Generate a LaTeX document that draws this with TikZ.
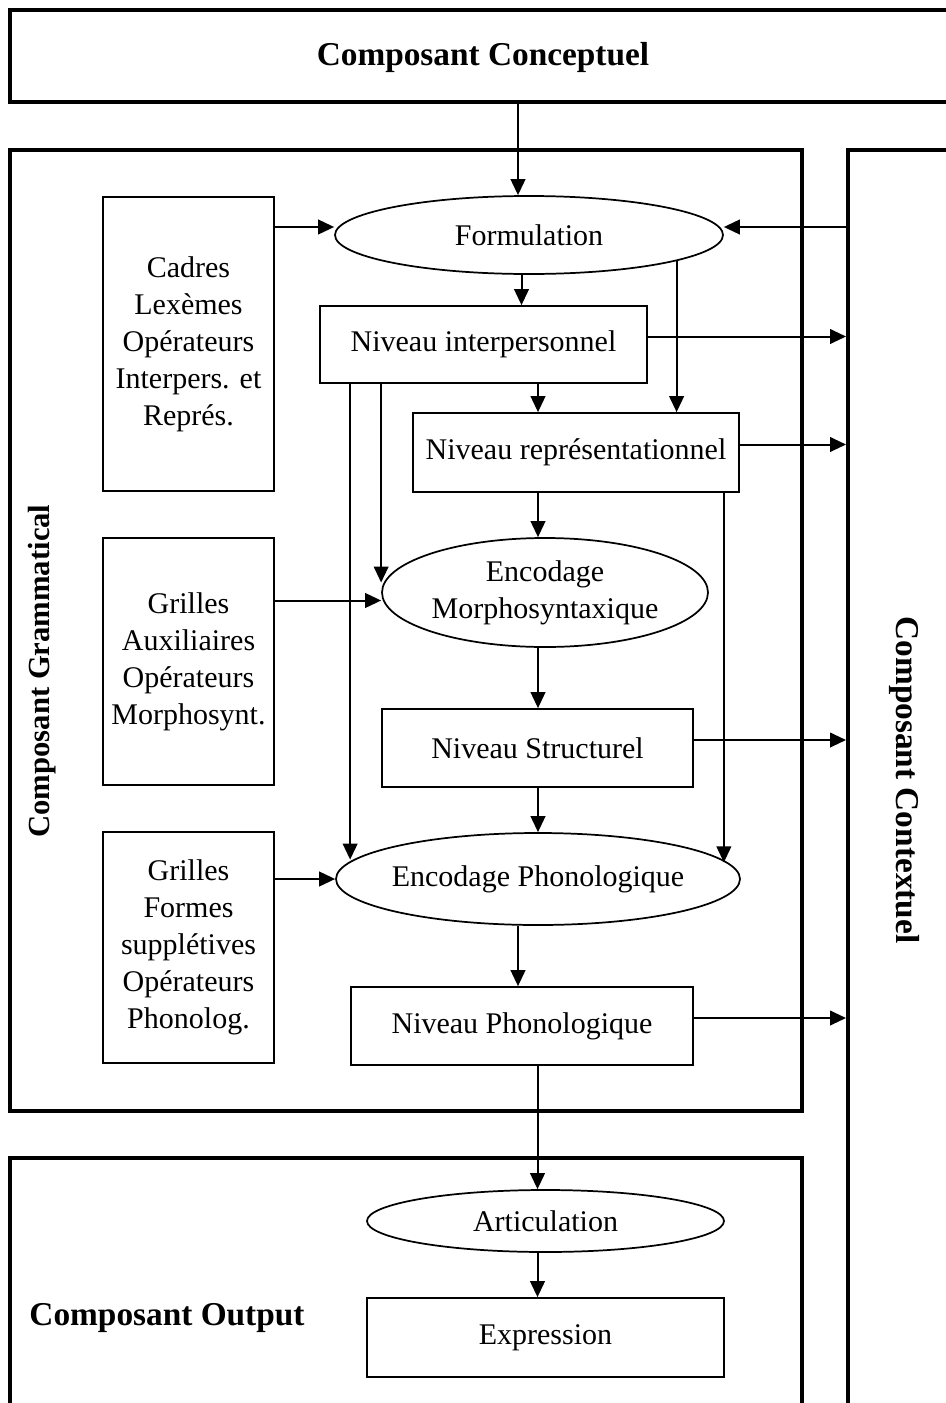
\documentclass[tikz,border=0pt]{standalone}
\usepackage{fontspec}
\setmainfont{Liberation Serif}
\usetikzlibrary{shapes.geometric,arrows.meta,calc}
\begin{document}
\begin{tikzpicture}[x=0.75pt,y=-0.75pt,
  every node/.style={font=\fontsize{22.5}{27.75}\selectfont, align=center, inner sep=0pt},
  bigbox/.style={draw, line width=3pt, rectangle},
  smallbox/.style={draw, line width=1.3pt, rectangle},
  ell/.style={draw, line width=1.3pt, ellipse},
  title/.style={font=\bfseries\fontsize{25}{30}\selectfont},
  arr/.style={line width=1.5pt, -{Triangle[length=12pt,width=11pt]}}]
\useasboundingbox (0,0) rectangle (946,1403);

% outer components
\node[bigbox, minimum width=980*0.75pt, minimum height=92*0.75pt] (concept) at (500,56) {};
\node[title] (conceptT) at (483,57) {Composant Conceptuel};
\node[bigbox, minimum width=792*0.75pt, minimum height=961*0.75pt] (gram) at (406,630.5) {};
\node[title, font=\bfseries\fontsize{23}{30}\selectfont, rotate=90] (gramT) at (42,671) {Composant Grammatical};
\node[bigbox, minimum width=152*0.75pt, minimum height=1350*0.75pt] (ctx) at (924,825) {};
\node[title, rotate=-90] (ctxT) at (905,780) {Composant Contextuel};
\node[bigbox, minimum width=792*0.75pt, minimum height=342*0.75pt] (outp) at (406,1329) {};
\node[title] (outpT) at (167,1318) {Composant Output};

% left resource boxes
\node[smallbox, minimum width=171*0.75pt, minimum height=294*0.75pt] (box1) at (188.5,344) {Cadres\\Lexèmes\\Opérateurs\\Interpers. et\\Représ.};
\node[smallbox, minimum width=171*0.75pt, minimum height=247*0.75pt] (box2) at (188.5,661.5) {Grilles\\Auxiliaires\\Opérateurs\\Morphosynt.};
\node[smallbox, minimum width=171*0.75pt, minimum height=231*0.75pt] (box3) at (188.5,947.5) {Grilles\\Formes\\supplétives\\Opérateurs\\Phonolog.};

% central chain
\node[ell, minimum width=388*0.75pt, minimum height=78*0.75pt, label=center:{Formulation}] (form) at (529,235) {};
\node[smallbox, minimum width=327*0.75pt, minimum height=77*0.75pt] (inter) at (483.5,344.5) {Niveau interpersonnel};
\node[smallbox, minimum width=326*0.75pt, minimum height=79*0.75pt] (repr) at (576,452.5) {Niveau représentationnel};
\node[ell, minimum width=326*0.75pt, minimum height=109*0.75pt, label=center:{Encodage\\Morphosyntaxique}] (morph) at (545,592.5) {};
\node[smallbox, minimum width=311*0.75pt, minimum height=78*0.75pt] (struct) at (537.5,748) {Niveau Structurel};
\node[ell, minimum width=404*0.75pt, minimum height=92*0.75pt, label=center:{Encodage Phonologique}] (phon) at (538,879) {};
\node[smallbox, minimum width=342*0.75pt, minimum height=78*0.75pt] (phonol) at (522,1026) {Niveau Phonologique};
\node[ell, minimum width=357*0.75pt, minimum height=62*0.75pt, label=center:{Articulation}] (artic) at (545.5,1221) {};
\node[smallbox, minimum width=357*0.75pt, minimum height=79*0.75pt] (expr) at (545.5,1337.5) {Expression};

% helper coordinates
\coordinate (f1) at ($(form.north)+(-11,0)$);
\coordinate (f2) at ($(form.west)+(0,-8)$);
\coordinate (f3) at ($(form.east)+(0,-8)$);
\coordinate (f4) at ($(inter.north)+(38,0)$);
\coordinate (f5) at (form.-10);
\coordinate (i1) at ($(inter.east)+(0,-8)$);
\coordinate (i2) at ($(repr.north)+(-38,0)$);
\coordinate (i3) at ($(inter.south west)+(31,0)$);
\coordinate (i4) at ($(inter.south west)+(62,0)$);
\coordinate (m1) at ($(morph.west)+(0,-10)$);
\coordinate (m2) at ($(morph.west)+(0,8)$);
\coordinate (r1) at ($(repr.east)+(0,-8)$);
\coordinate (r2) at ($(repr.south east)+(-16,0)$);
\coordinate (s1) at ($(struct.east)+(0,-8)$);
\coordinate (p1) at ($(phonol.north)+(-4,0)$);
\coordinate (p2) at ($(phonol.east)+(0,-8)$);
\coordinate (a1) at ($(artic.north)+(-8,0)$);

% connectors
\draw[arr] (f1 |- concept.south) -- (f1);
\draw[arr] (f2 -| box1.east) -- (f2);
\draw[arr] (f3 -| ctx.west) -- (f3);
\draw[arr] (f4 |- form.south) -- (f4);
\draw[arr] (f5) -- (f5 |- repr.north);
\draw[arr] (i1) -- (i1 -| ctx.west);
\draw[arr] (i2 |- inter.south) -- (i2);
\draw[arr] (i3) -- (i3 |- phon.174.7);
\draw[arr] (i4) -- (i4 |- m1);
\draw[arr] (r1) -- (r1 -| ctx.west);
\draw[arr] (i2 |- repr.south) -- (i2 |- morph.north);
\draw[arr] (r2) -- (r2 |- phon.5.7);
\draw[arr] (m2 -| box2.east) -- (m2);
\draw[arr] (i2 |- morph.south) -- (i2 |- struct.north);
\draw[arr] (s1) -- (s1 -| ctx.west);
\draw[arr] (i2 |- struct.south) -- (i2 |- phon.north);
\draw[arr] (phon.west -| box3.east) -- (phon.west);
\draw[arr] (p1 |- phon.south) -- (p1);
\draw[arr] (p2) -- (p2 -| ctx.west);
\draw[arr] (a1 |- phonol.south) -- (a1);
\draw[arr] (a1 |- artic.south) -- (a1 |- expr.north);
\end{tikzpicture}
\end{document}
